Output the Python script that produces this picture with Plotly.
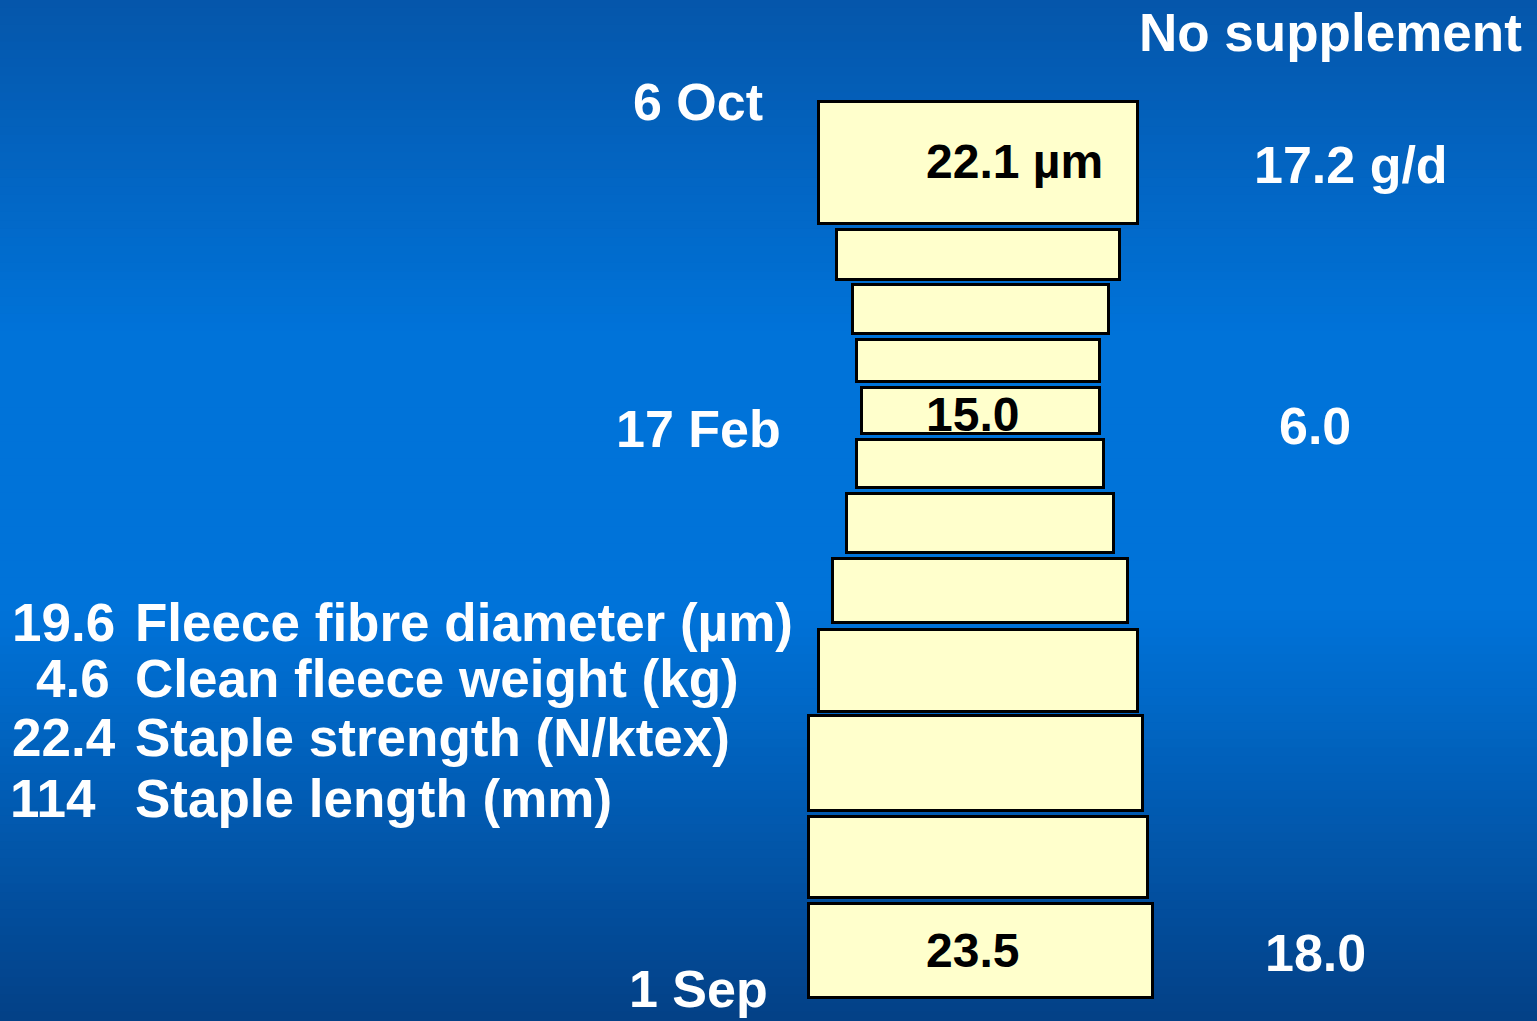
import plotly.graph_objects as go

# ---- data (chart units = pixel-like staple coordinates) ----
seg_left = [817, 835, 851, 855, 860, 855, 845, 831, 817, 807, 807, 807]
seg_right = [1139, 1121, 1110, 1101, 1101, 1105, 1115, 1129, 1139, 1144, 1149, 1154]
seg_top = [100, 228, 283, 338, 386, 438, 492, 557, 628, 714, 815, 902]
seg_bottom = [225, 281, 335, 383, 435, 489, 554, 624, 713, 812, 899, 999]

box_labels = ["22.1 µm", "15.0", "23.5"]
box_label_x = [1014, 972, 972]
box_label_y = [161, 414, 950]

date_labels = ["6 Oct", "17 Feb", "1 Sep"]
date_x = [698, 698, 698]
date_y = [102, 429, 989]

growth_labels = ["17.2 g/d", "6.0", "18.0"]
growth_x = [1351, 1315, 1315]
growth_y = [165, 426, 953]

summary_values = ["19.6", "4.6", "22.4", "114"]
summary_value_x = [10, 34, 10, 8]
summary_names = ["Fleece fibre diameter (µm)", "Clean fleece weight (kg)",
                 "Staple strength (N/ktex)", "Staple length (mm)"]
summary_y = [622, 678, 737, 798]

title_text = "No supplement"

W, H = 1537, 1021
FONT = "Arial, Liberation Sans, Helvetica, sans-serif"

fig = go.Figure()

# staple segments as horizontal bars
fig.add_trace(go.Bar(
    orientation="h",
    base=[l + 1.5 for l in seg_left],
    x=[(r - l) - 3 for l, r in zip(seg_left, seg_right)],
    y=[(t + b) / 2 for t, b in zip(seg_top, seg_bottom)],
    width=[(b - t) - 3 for t, b in zip(seg_top, seg_bottom)],
    marker=dict(color="#FFFFCC", line=dict(color="#000000", width=3)),
    hoverinfo="skip",
    showlegend=False,
))

annotations = []
for t, x, y in zip(box_labels, box_label_x, box_label_y):
    annotations.append(dict(x=x, y=y, text=f"<b>{t}</b>", showarrow=False,
                            xanchor="center", yanchor="middle",
                            font=dict(family=FONT, size=48, color="#000000")))
for t, x, y in zip(date_labels, date_x, date_y):
    annotations.append(dict(x=x, y=y, text=f"<b>{t}</b>", showarrow=False,
                            xanchor="center", yanchor="middle",
                            font=dict(family=FONT, size=52, color="#FFFFFF")))
for t, x, y in zip(growth_labels, growth_x, growth_y):
    annotations.append(dict(x=x, y=y, text=f"<b>{t}</b>", showarrow=False,
                            xanchor="center", yanchor="middle",
                            font=dict(family=FONT, size=52, color="#FFFFFF")))
for v, vx, n, y in zip(summary_values, summary_value_x, summary_names, summary_y):
    annotations.append(dict(x=vx, y=y, text=f"<b>{v}</b>", showarrow=False,
                            xanchor="left", yanchor="middle",
                            font=dict(family=FONT, size=53, color="#FFFFFF")))
    annotations.append(dict(x=133, y=y, text=f"<b>{n}</b>", showarrow=False,
                            xanchor="left", yanchor="middle",
                            font=dict(family=FONT, size=53, color="#FFFFFF")))
annotations.append(dict(x=1524, y=32, text=f"<b>{title_text}</b>", showarrow=False,
                        xanchor="right", yanchor="middle",
                        font=dict(family=FONT, size=53, color="#FFFFFF")))

# background vertical gradient (decoration)
def lerp(c1, c2, t):
    return tuple(round(a + (b - a) * t) for a, b in zip(c1, c2))

stops = [(0.0, (5, 86, 170)), (0.33, (0, 115, 217)), (0.60, (0, 115, 217)), (1.0, (3, 64, 134))]
def color_at(p):
    for (p0, c0), (p1, c1) in zip(stops[:-1], stops[1:]):
        if p0 <= p <= p1:
            return lerp(c0, c1, (p - p0) / (p1 - p0))
    return stops[-1][1]

shapes = []
n = 120
for i in range(n):
    p0, p1 = i / n, (i + 1) / n
    c = color_at((p0 + p1) / 2)
    shapes.append(dict(type="rect", xref="paper", yref="paper", x0=0, x1=1,
                       y0=1 - p1 - 0.001, y1=1 - p0 + 0.001, layer="below",
                       line=dict(width=0), fillcolor=f"rgb{c}"))

fig.update_layout(
    width=W, height=H,
    margin=dict(l=0, r=0, t=0, b=0),
    paper_bgcolor="rgb(0,115,217)",
    plot_bgcolor="rgba(0,0,0,0)",
    xaxis=dict(range=[0, W], visible=False, fixedrange=True),
    yaxis=dict(range=[H, 0], visible=False, fixedrange=True),
    shapes=shapes,
    annotations=annotations,
    bargap=0,
)

fig.write_html(
    "out.html",
    config={"displayModeBar": False},
    post_script="document.body.style.margin='0';document.body.style.padding='0';"
                "document.body.style.overflow='hidden';"
                "document.documentElement.style.overflow='hidden';",
)
